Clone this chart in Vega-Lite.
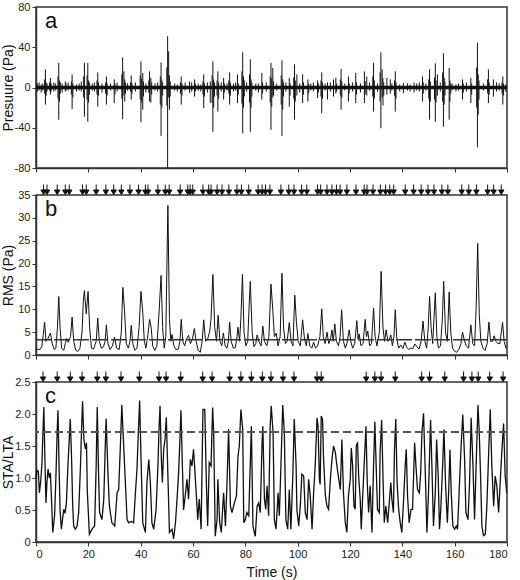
{
  "$schema": "https://vega.github.io/schema/vega-lite/v6.json",
  "padding": {"left": 0, "top": 0, "right": 0, "bottom": 0},
  "bounds": "flush",
  "spacing": 27,
  "config": {
    "font": "Liberation Sans",
    "view": {"stroke": "#333", "strokeWidth": 1.5},
    "axis": {"domainColor": "#333", "domainWidth": 1.5, "tickColor": "#333", "tickSize": 4, "labelColor": "#222", "labelFontSize": 11, "labelOverlap": false, "titleFontSize": 14, "titleFontWeight": "normal", "titleColor": "#111", "grid": false, "labelFont": "Liberation Sans", "titleFont": "Liberation Sans"}
  },
  "datasets": {
    "pres": [
      {"t":3.6,"lo":-17,"hi":18},{"t":3.3,"lo":-6,"hi":8},{"t":3.9,"lo":-8,"hi":5},{"t":4.2,"lo":-4,"hi":4},
      {"t":5.5,"lo":-7,"hi":9.5},{"t":5.2,"lo":-3,"hi":5},{"t":5.8,"lo":-4,"hi":4},
      {"t":8.7,"lo":-32,"hi":24.5},{"t":8.4,"lo":-11,"hi":11},{"t":9.0,"lo":-14,"hi":7},{"t":9.3,"lo":-6,"hi":5},
      {"t":11.2,"lo":-4,"hi":6},{"t":11.5,"lo":-3,"hi":4},
      {"t":13.8,"lo":-21.5,"hi":13},{"t":13.5,"lo":-7,"hi":6},{"t":14.1,"lo":-10,"hi":4},
      {"t":18.5,"lo":-29,"hi":24.5},{"t":18.2,"lo":-10,"hi":11},{"t":19.8,"lo":-34,"hi":24.5},{"t":19.5,"lo":-12,"hi":12},{"t":20.1,"lo":-15,"hi":7},{"t":20.4,"lo":-7,"hi":5},
      {"t":23.6,"lo":-19,"hi":15},{"t":23.3,"lo":-7,"hi":7},{"t":23.9,"lo":-8,"hi":5},
      {"t":26.9,"lo":-17,"hi":11},{"t":26.6,"lo":-6,"hi":5},{"t":27.2,"lo":-8,"hi":4},
      {"t":29.9,"lo":-15.5,"hi":8},{"t":30.2,"lo":-7,"hi":4},
      {"t":33.1,"lo":-31.5,"hi":30},{"t":33.6,"lo":-8,"hi":16},{"t":32.8,"lo":-11,"hi":13},{"t":33.9,"lo":-14,"hi":8},{"t":34.2,"lo":-6,"hi":5},
      {"t":36.4,"lo":-12,"hi":12},{"t":36.1,"lo":-4,"hi":5},{"t":36.7,"lo":-6,"hi":4},
      {"t":40.1,"lo":-34.5,"hi":26},{"t":40.8,"lo":-22,"hi":14.5},{"t":39.8,"lo":-12,"hi":12},{"t":40.4,"lo":-15,"hi":9},{"t":41.1,"lo":-9,"hi":6},
      {"t":43.4,"lo":-14,"hi":16},{"t":43.9,"lo":-15,"hi":9.5},{"t":43.1,"lo":-5,"hi":7},{"t":44.2,"lo":-7,"hi":5},
      {"t":47.8,"lo":-48,"hi":25},{"t":47.5,"lo":-17,"hi":11},{"t":48.1,"lo":-20,"hi":8},{"t":48.4,"lo":-8,"hi":5},
      {"t":50.3,"lo":-80,"hi":51},{"t":50.7,"lo":-10,"hi":36},{"t":50.0,"lo":-18,"hi":20},{"t":51.0,"lo":-22,"hi":12},{"t":51.3,"lo":-9,"hi":6},
      {"t":55.5,"lo":-17,"hi":11},{"t":55.2,"lo":-6,"hi":5},{"t":55.8,"lo":-8,"hi":4},
      {"t":58.7,"lo":-5.5,"hi":6},{"t":60.6,"lo":-9,"hi":8},{"t":60.9,"lo":-4,"hi":4},
      {"t":64.1,"lo":-20.5,"hi":13},{"t":63.8,"lo":-7,"hi":6},{"t":64.4,"lo":-9,"hi":4},
      {"t":66.6,"lo":-15.5,"hi":6},{"t":67.6,"lo":-44,"hi":26},{"t":67.3,"lo":-15,"hi":12},{"t":67.9,"lo":-20,"hi":8},{"t":68.2,"lo":-9,"hi":5},
      {"t":69.5,"lo":-24,"hi":16},{"t":69.2,"lo":-8,"hi":7},{"t":69.8,"lo":-11,"hi":5},
      {"t":71.7,"lo":-12,"hi":9.5},{"t":72.0,"lo":-5,"hi":4},
      {"t":74.0,"lo":-17,"hi":15},{"t":73.7,"lo":-6,"hi":7},{"t":74.3,"lo":-8,"hi":5},
      {"t":77.0,"lo":-15.5,"hi":13},{"t":77.3,"lo":-7,"hi":4},
      {"t":79.0,"lo":-45.5,"hi":35},{"t":78.7,"lo":-16,"hi":16},{"t":79.3,"lo":-20,"hi":11},{"t":79.6,"lo":-9,"hi":7},
      {"t":81.9,"lo":-44,"hi":28},{"t":81.6,"lo":-15,"hi":13},{"t":82.2,"lo":-20,"hi":8},{"t":82.5,"lo":-9,"hi":5},
      {"t":86.3,"lo":-12,"hi":14.5},{"t":86.6,"lo":-6,"hi":5},
      {"t":89.8,"lo":-42,"hi":24.5},{"t":90.5,"lo":-10,"hi":19.5},{"t":89.5,"lo":-15,"hi":11},{"t":90.1,"lo":-19,"hi":9},{"t":90.8,"lo":-8,"hi":6},
      {"t":94.0,"lo":-48,"hi":27},{"t":93.7,"lo":-17,"hi":12},{"t":94.3,"lo":-22,"hi":8},{"t":94.6,"lo":-9,"hi":5},
      {"t":96.8,"lo":-19,"hi":9.5},{"t":97.1,"lo":-8,"hi":4},
      {"t":98.8,"lo":-32,"hi":23},{"t":99.7,"lo":-8,"hi":13},{"t":98.5,"lo":-11,"hi":10},{"t":99.1,"lo":-14,"hi":7},
      {"t":101.9,"lo":-15.5,"hi":13},{"t":102.2,"lo":-7,"hi":5},
      {"t":103.9,"lo":-14,"hi":8},{"t":104.2,"lo":-6,"hi":4},
      {"t":107.6,"lo":-10.5,"hi":7},{"t":107.9,"lo":-5,"hi":4},
      {"t":109.2,"lo":-25.5,"hi":15},{"t":108.9,"lo":-9,"hi":7},{"t":109.5,"lo":-11,"hi":5},
      {"t":111.4,"lo":-12,"hi":5},{"t":113.7,"lo":-9,"hi":8},{"t":114.6,"lo":-6,"hi":9.5},{"t":114.9,"lo":-4,"hi":4},
      {"t":116.6,"lo":-22,"hi":18.5},{"t":116.3,"lo":-8,"hi":8},{"t":116.9,"lo":-10,"hi":6},
      {"t":119.4,"lo":-14,"hi":11},{"t":119.7,"lo":-6,"hi":4},
      {"t":122.2,"lo":-15.5,"hi":14.5},{"t":122.5,"lo":-7,"hi":5},
      {"t":125.5,"lo":-15.5,"hi":16},{"t":126.4,"lo":-8,"hi":11},{"t":125.8,"lo":-7,"hi":6},
      {"t":129.0,"lo":-24,"hi":24.5},{"t":128.7,"lo":-9,"hi":11},{"t":129.3,"lo":-11,"hi":7},
      {"t":131.8,"lo":-40.5,"hi":35},{"t":132.3,"lo":-10,"hi":18},{"t":131.5,"lo":-14,"hi":15},{"t":132.6,"lo":-18,"hi":9},{"t":132.9,"lo":-8,"hi":5},
      {"t":134.1,"lo":-7,"hi":9.5},{"t":135.4,"lo":-6,"hi":8},
      {"t":137.3,"lo":-24,"hi":16},{"t":137.0,"lo":-8,"hi":7},{"t":137.6,"lo":-11,"hi":5},
      {"t":140.4,"lo":-5.5,"hi":4.5},{"t":144.5,"lo":-5,"hi":5},
      {"t":147.7,"lo":-14,"hi":11},{"t":148.0,"lo":-6,"hi":5},
      {"t":150.4,"lo":-32,"hi":18},{"t":150.1,"lo":-11,"hi":8},{"t":150.7,"lo":-14,"hi":6},
      {"t":152.6,"lo":-34,"hi":24},{"t":153.4,"lo":-8,"hi":13},{"t":152.3,"lo":-12,"hi":10},{"t":152.9,"lo":-15,"hi":7},
      {"t":155.7,"lo":-39,"hi":34},{"t":155.4,"lo":-14,"hi":15},{"t":156.0,"lo":-17,"hi":10},{"t":156.3,"lo":-8,"hi":6},
      {"t":157.9,"lo":-32,"hi":19.5},{"t":158.2,"lo":-14,"hi":7},{"t":158.5,"lo":-6,"hi":4},
      {"t":163.0,"lo":-12,"hi":8},{"t":163.3,"lo":-5,"hi":4},
      {"t":166.2,"lo":-15.5,"hi":9.5},{"t":166.5,"lo":-7,"hi":4},
      {"t":168.7,"lo":-59.5,"hi":44.5},{"t":168.4,"lo":-20,"hi":20},{"t":169.0,"lo":-27,"hi":13},{"t":169.3,"lo":-12,"hi":7},
      {"t":172.9,"lo":-15.5,"hi":18},{"t":172.6,"lo":-6,"hi":8},{"t":173.2,"lo":-7,"hi":5},
      {"t":174.8,"lo":-9,"hi":8},
      {"t":178.4,"lo":-17,"hi":11},{"t":178.1,"lo":-6,"hi":5},{"t":178.7,"lo":-8,"hi":4},
      {"t":0.5,"lo":-4,"hi":4},{"t":1.2,"lo":-3,"hi":5},{"t":2.0,"lo":-5,"hi":3},{"t":2.6,"lo":-3,"hi":4},{"t":6.8,"lo":-4,"hi":5},{"t":7.5,"lo":-3,"hi":4},{"t":10.0,"lo":-5,"hi":4},{"t":12.3,"lo":-3,"hi":5},{"t":15.5,"lo":-4,"hi":3},{"t":16.5,"lo":-3,"hi":4},{"t":17.3,"lo":-4,"hi":6},{"t":21.5,"lo":-3,"hi":4},{"t":22.3,"lo":-4,"hi":5},{"t":25.2,"lo":-5,"hi":4},{"t":28.5,"lo":-3,"hi":4},{"t":31.0,"lo":-4,"hi":5},{"t":35.0,"lo":-3,"hi":4},{"t":38.0,"lo":-4,"hi":5},{"t":42.0,"lo":-5,"hi":4},{"t":45.5,"lo":-3,"hi":4},{"t":46.5,"lo":-4,"hi":5},{"t":53.0,"lo":-3,"hi":4},{"t":54.0,"lo":-4,"hi":3},{"t":57.0,"lo":-3,"hi":5},{"t":59.5,"lo":-4,"hi":5},{"t":62.0,"lo":-3,"hi":4},{"t":63.0,"lo":-4,"hi":3},{"t":65.5,"lo":-5,"hi":5},{"t":70.8,"lo":-4,"hi":5},{"t":73.0,"lo":-3,"hi":4},{"t":75.5,"lo":-4,"hi":4},{"t":76.3,"lo":-3,"hi":5},{"t":80.5,"lo":-4,"hi":5},{"t":84.0,"lo":-3,"hi":4},{"t":85.0,"lo":-5,"hi":4},{"t":88.0,"lo":-4,"hi":5},{"t":92.0,"lo":-3,"hi":4},{"t":95.5,"lo":-4,"hi":5},{"t":100.8,"lo":-5,"hi":4},{"t":105.0,"lo":-3,"hi":4},{"t":106.0,"lo":-4,"hi":5},{"t":110.5,"lo":-3,"hi":4},{"t":112.5,"lo":-4,"hi":5},{"t":118.0,"lo":-3,"hi":4},{"t":121.0,"lo":-4,"hi":5},{"t":124.0,"lo":-5,"hi":4},{"t":127.5,"lo":-3,"hi":5},{"t":130.5,"lo":-4,"hi":4},{"t":136.0,"lo":-3,"hi":4},{"t":139.0,"lo":-4,"hi":3},{"t":142.0,"lo":-3,"hi":4},{"t":143.0,"lo":-4,"hi":3},{"t":145.5,"lo":-3,"hi":4},{"t":146.5,"lo":-4,"hi":5},{"t":149.0,"lo":-3,"hi":4},{"t":154.5,"lo":-4,"hi":5},{"t":159.0,"lo":-3,"hi":4},{"t":160.5,"lo":-4,"hi":3},{"t":161.5,"lo":-3,"hi":4},{"t":164.5,"lo":-4,"hi":5},{"t":171.0,"lo":-3,"hi":4},{"t":176.0,"lo":-4,"hi":5},{"t":177.0,"lo":-3,"hi":4},{"t":179.5,"lo":-4,"hi":3}
    ],
    "rms": [
      {"t":0,"v":1.0},{"t":0.8,"v":1.3},{"t":1.5,"v":1.2},{"t":2.2,"v":1.8},{"t":2.8,"v":4.5},{"t":3.3,"v":7.2},{"t":3.8,"v":3.0},{"t":4.5,"v":3.5},{"t":5.5,"v":4.8},{"t":6.2,"v":2.5},{"t":7.0,"v":1.2},{"t":7.6,"v":1.5},{"t":8.2,"v":6},{"t":8.7,"v":12.8},{"t":9.2,"v":6},{"t":9.8,"v":1.5},{"t":10.6,"v":1.0},{"t":11.2,"v":2.5},{"t":11.7,"v":3.6},{"t":12.3,"v":2.8},{"t":13.2,"v":4},{"t":13.8,"v":8.3},{"t":14.4,"v":3},{"t":15.2,"v":1.0},{"t":16.0,"v":0.8},{"t":16.8,"v":1.5},{"t":17.6,"v":5},{"t":18.1,"v":12},{"t":18.5,"v":14.1},{"t":19.2,"v":9},{"t":19.9,"v":13.9},{"t":20.5,"v":6},{"t":21.2,"v":1.5},{"t":22.0,"v":1.3},{"t":23.0,"v":3},{"t":23.6,"v":8.1},{"t":24.2,"v":3.0},{"t":25.0,"v":1.5},{"t":25.8,"v":1.8},{"t":26.4,"v":3},{"t":26.9,"v":6.6},{"t":27.5,"v":2.5},{"t":28.3,"v":1.2},{"t":29.2,"v":2},{"t":30.0,"v":3.9},{"t":30.8,"v":1.5},{"t":31.8,"v":1.2},{"t":32.6,"v":5},{"t":33.2,"v":14.8},{"t":33.8,"v":10},{"t":34.5,"v":2.5},{"t":35.3,"v":1.5},{"t":35.9,"v":3},{"t":36.4,"v":6.5},{"t":37.0,"v":2.5},{"t":37.8,"v":1.0},{"t":38.6,"v":1.5},{"t":39.4,"v":6},{"t":40.1,"v":13.9},{"t":40.8,"v":9.4},{"t":41.4,"v":3},{"t":42.0,"v":1.5},{"t":42.8,"v":4.5},{"t":43.4,"v":7.8},{"t":44.0,"v":6.1},{"t":44.6,"v":2},{"t":45.4,"v":1.0},{"t":46.2,"v":2},{"t":47.0,"v":9},{"t":47.8,"v":17.4},{"t":48.4,"v":6},{"t":49.0,"v":1.5},{"t":49.6,"v":4},{"t":50.4,"v":32.7},{"t":51.0,"v":8},{"t":51.5,"v":3},{"t":52.0,"v":4.5},{"t":52.7,"v":2},{"t":53.5,"v":1.2},{"t":54.4,"v":1.3},{"t":55.0,"v":3},{"t":55.5,"v":7.8},{"t":56.1,"v":3},{"t":56.8,"v":2},{"t":57.5,"v":3.5},{"t":58.3,"v":4.3},{"t":59.0,"v":2.5},{"t":59.8,"v":3.5},{"t":60.5,"v":5.8},{"t":61.2,"v":3},{"t":62.0,"v":1.0},{"t":62.8,"v":0.6},{"t":63.5,"v":3},{"t":64.1,"v":7.7},{"t":64.8,"v":3},{"t":65.6,"v":3.5},{"t":66.4,"v":5.2},{"t":66.9,"v":8},{"t":67.6,"v":17.6},{"t":68.3,"v":6},{"t":69.0,"v":3},{"t":69.6,"v":8.7},{"t":70.3,"v":3},{"t":71.0,"v":2},{"t":71.6,"v":4.8},{"t":72.3,"v":2},{"t":73.0,"v":1.5},{"t":73.5,"v":3},{"t":74.0,"v":7.2},{"t":74.6,"v":3},{"t":75.4,"v":1.5},{"t":76.2,"v":1.6},{"t":76.8,"v":4},{"t":77.2,"v":6.1},{"t":77.8,"v":3},{"t":78.3,"v":8},{"t":78.9,"v":17.6},{"t":79.5,"v":5},{"t":80.2,"v":2},{"t":80.9,"v":3},{"t":81.4,"v":10},{"t":81.9,"v":16.1},{"t":82.6,"v":5},{"t":83.3,"v":1.8},{"t":84.0,"v":2.5},{"t":84.5,"v":4.4},{"t":85.2,"v":3},{"t":86.0,"v":2.0},{"t":86.7,"v":6.3},{"t":87.3,"v":3},{"t":88.2,"v":2},{"t":89.0,"v":4},{"t":89.8,"v":15.5},{"t":90.5,"v":9.8},{"t":91.1,"v":4},{"t":91.8,"v":4.8},{"t":92.5,"v":2},{"t":93.3,"v":4},{"t":94.0,"v":17.9},{"t":94.6,"v":6},{"t":95.3,"v":2.5},{"t":96.0,"v":3},{"t":96.8,"v":7.1},{"t":97.5,"v":3},{"t":98.2,"v":2},{"t":98.9,"v":13.1},{"t":99.5,"v":7.4},{"t":100.2,"v":3},{"t":101.0,"v":2},{"t":101.9,"v":7.7},{"t":102.6,"v":3.5},{"t":103.3,"v":2},{"t":103.9,"v":4.7},{"t":104.6,"v":2},{"t":105.4,"v":1.5},{"t":106.1,"v":2.8},{"t":106.8,"v":1.5},{"t":107.6,"v":2},{"t":108.5,"v":4},{"t":109.2,"v":10.1},{"t":109.8,"v":4},{"t":110.5,"v":2.5},{"t":111.2,"v":5.0},{"t":111.9,"v":2.5},{"t":112.6,"v":3.5},{"t":113.1,"v":5.5},{"t":113.6,"v":3},{"t":114.2,"v":6.8},{"t":114.8,"v":3},{"t":115.6,"v":2},{"t":116.2,"v":4},{"t":116.8,"v":9.9},{"t":117.5,"v":3},{"t":118.2,"v":1.5},{"t":118.8,"v":2.5},{"t":119.7,"v":5.5},{"t":120.3,"v":3},{"t":121.0,"v":1.5},{"t":121.8,"v":2.5},{"t":122.6,"v":7.5},{"t":123.1,"v":3.5},{"t":123.5,"v":4.6},{"t":124.2,"v":2},{"t":125.0,"v":2.5},{"t":125.8,"v":7.8},{"t":126.3,"v":4},{"t":126.8,"v":5.2},{"t":127.5,"v":2},{"t":128.2,"v":2.5},{"t":129.0,"v":10.3},{"t":129.6,"v":4},{"t":130.3,"v":2},{"t":131.2,"v":5},{"t":131.9,"v":18.3},{"t":132.6,"v":6},{"t":133.2,"v":3},{"t":133.8,"v":5.5},{"t":134.5,"v":3},{"t":135.0,"v":3.5},{"t":135.6,"v":4.4},{"t":136.2,"v":2},{"t":136.8,"v":4},{"t":137.3,"v":9.9},{"t":137.9,"v":3.5},{"t":138.6,"v":1.5},{"t":139.4,"v":2.2},{"t":140.2,"v":1.4},{"t":141.0,"v":2.8},{"t":141.6,"v":1.8},{"t":142.4,"v":1.2},{"t":143.2,"v":1.5},{"t":144.0,"v":1.4},{"t":144.8,"v":2.4},{"t":145.6,"v":1.8},{"t":146.4,"v":1.3},{"t":147.2,"v":3},{"t":147.9,"v":7.4},{"t":148.6,"v":3},{"t":149.3,"v":1.5},{"t":149.9,"v":6},{"t":150.4,"v":12.8},{"t":151.0,"v":6},{"t":151.6,"v":2.5},{"t":152.1,"v":8},{"t":152.6,"v":13.6},{"t":153.2,"v":4},{"t":153.8,"v":1.5},{"t":154.6,"v":2},{"t":155.3,"v":8},{"t":155.8,"v":16.1},{"t":156.5,"v":5},{"t":157.2,"v":3},{"t":157.9,"v":13.8},{"t":158.5,"v":5},{"t":159.2,"v":1.5},{"t":160.0,"v":0.8},{"t":160.8,"v":0.6},{"t":161.6,"v":1.2},{"t":162.4,"v":2.5},{"t":163.0,"v":5.0},{"t":163.6,"v":3.5},{"t":164.4,"v":2},{"t":165.3,"v":1.5},{"t":166.2,"v":6.6},{"t":166.9,"v":2.5},{"t":167.6,"v":2},{"t":168.2,"v":10},{"t":168.8,"v":24.4},{"t":169.4,"v":9},{"t":170.0,"v":3},{"t":170.8,"v":1.5},{"t":171.6,"v":1.0},{"t":172.4,"v":2.5},{"t":173.1,"v":7.2},{"t":173.7,"v":3},{"t":174.4,"v":3.0},{"t":175.1,"v":4.2},{"t":175.8,"v":3},{"t":176.5,"v":2.5},{"t":177.3,"v":2.5},{"t":178.3,"v":7.2},{"t":178.9,"v":3},{"t":179.6,"v":1.5},{"t":180,"v":1.5}
    ],
    "sta": [
      {"t":0,"v":1.0},{"t":0.4,"v":1.12},{"t":0.9,"v":1.1},{"t":1.3,"v":0.77},{"t":1.8,"v":0.95},{"t":2.3,"v":1.24},{"t":2.6,"v":1.65},{"t":3.0,"v":2.11},{"t":3.4,"v":1.3},{"t":3.8,"v":0.61},{"t":4.2,"v":0.95},{"t":4.6,"v":1.14},{"t":5.1,"v":1.0},{"t":5.5,"v":1.08},{"t":6.0,"v":0.6},{"t":6.4,"v":0.15},{"t":7.1,"v":0.41},{"t":7.6,"v":1.0},{"t":8.1,"v":1.75},{"t":8.4,"v":2.06},{"t":8.8,"v":1.2},{"t":9.2,"v":0.5},{"t":9.7,"v":0.2},{"t":10.6,"v":0.51},{"t":11.1,"v":0.45},{"t":11.6,"v":0.6},{"t":12.2,"v":1.19},{"t":12.7,"v":1.6},{"t":13.1,"v":1.92},{"t":13.6,"v":1.3},{"t":14.0,"v":0.6},{"t":14.4,"v":0.25},{"t":15.0,"v":0.2},{"t":15.7,"v":0.25},{"t":16.3,"v":0.46},{"t":17.0,"v":1.19},{"t":17.4,"v":1.75},{"t":17.8,"v":2.2},{"t":18.3,"v":1.6},{"t":18.9,"v":1.45},{"t":19.3,"v":1.55},{"t":19.6,"v":0.8},{"t":20.4,"v":0.12},{"t":21.4,"v":0.2},{"t":22.4,"v":0.25},{"t":23.0,"v":1.2},{"t":23.4,"v":2.11},{"t":23.9,"v":1.1},{"t":24.3,"v":0.46},{"t":25.2,"v":0.35},{"t":25.9,"v":0.67},{"t":26.4,"v":1.4},{"t":26.8,"v":1.93},{"t":27.5,"v":1.08},{"t":28.0,"v":0.6},{"t":28.4,"v":0.46},{"t":29.0,"v":0.3},{"t":30.1,"v":0.25},{"t":31.0,"v":0.77},{"t":31.6,"v":0.82},{"t":32.2,"v":1.45},{"t":32.8,"v":2.14},{"t":33.4,"v":1.6},{"t":34.1,"v":0.98},{"t":34.8,"v":0.35},{"t":35.4,"v":0.3},{"t":36.4,"v":0.32},{"t":37.3,"v":0.3},{"t":38.0,"v":0.77},{"t":38.6,"v":1.14},{"t":39.1,"v":1.7},{"t":39.6,"v":2.21},{"t":40.2,"v":1.2},{"t":40.8,"v":0.3},{"t":41.8,"v":0.15},{"t":42.4,"v":0.93},{"t":43.1,"v":1.29},{"t":43.7,"v":0.93},{"t":44.3,"v":0.3},{"t":45.0,"v":0.2},{"t":45.9,"v":0.51},{"t":46.6,"v":1.19},{"t":47.0,"v":1.75},{"t":47.4,"v":2.13},{"t":47.9,"v":1.3},{"t":48.3,"v":0.93},{"t":48.8,"v":1.45},{"t":49.3,"v":1.6},{"t":49.8,"v":1.95},{"t":50.3,"v":1.2},{"t":51.0,"v":0.15},{"t":52.0,"v":0.2},{"t":52.6,"v":0.05},{"t":53.3,"v":0.3},{"t":53.9,"v":0.67},{"t":54.5,"v":1.08},{"t":55.0,"v":1.6},{"t":55.4,"v":2.06},{"t":56.0,"v":1.1},{"t":56.4,"v":0.5},{"t":57.1,"v":0.75},
      {"t":57.7,"v":0.98},{"t":58.3,"v":0.67},{"t":59.0,"v":1.29},{"t":59.6,"v":1.19},{"t":60.2,"v":1.45},{"t":60.6,"v":1.19},{"t":61.3,"v":0.72},{"t":61.8,"v":0.35},{"t":62.4,"v":0.67},{"t":63.1,"v":0.2},{"t":63.8,"v":2.07},{"t":64.5,"v":2.07},{"t":65.1,"v":0.93},{"t":65.6,"v":0.25},{"t":66.2,"v":1.24},{"t":66.9,"v":1.19},{"t":67.5,"v":2.1},{"t":67.9,"v":1.71},{"t":68.5,"v":0.09},{"t":69.2,"v":0.35},{"t":69.5,"v":0.98},{"t":70.2,"v":0.3},{"t":70.8,"v":0.15},{"t":71.7,"v":0.77},{"t":72.4,"v":0.25},{"t":73.0,"v":0.93},{"t":73.6,"v":1.76},{"t":74.3,"v":0.56},{"t":74.9,"v":0.46},{"t":75.5,"v":0.56},{"t":76.6,"v":0.72},{"t":77.2,"v":1.34},{"t":77.7,"v":1.5},{"t":78.3,"v":2.07},{"t":79.0,"v":1.76},{"t":79.4,"v":0.3},{"t":80.0,"v":0.35},{"t":80.6,"v":0.46},{"t":81.3,"v":0.41},{"t":81.9,"v":1.24},{"t":82.3,"v":1.81},{"t":82.9,"v":0.25},{"t":83.8,"v":0.09},{"t":84.5,"v":0.56},{"t":85.1,"v":0.61},{"t":85.7,"v":0.46},{"t":86.4,"v":1.55},{"t":86.7,"v":1.81},{"t":87.3,"v":0.67},{"t":87.8,"v":0.51},{"t":88.3,"v":0.88},{"t":88.9,"v":0.41},{"t":89.5,"v":1.81},{"t":89.9,"v":2.13},{"t":90.6,"v":1.71},{"t":91.1,"v":0.35},{"t":91.7,"v":0.2},{"t":92.1,"v":0.46},{"t":92.5,"v":0.77},{"t":93.0,"v":0.41},{"t":93.6,"v":1.19},{"t":94.3,"v":2.14},{"t":94.9,"v":1.71},{"t":95.5,"v":0.35},{"t":96.2,"v":0.2},{"t":96.8,"v":0.82},{"t":97.4,"v":0.2},{"t":98.1,"v":0.98},{"t":98.7,"v":1.92},{"t":99.4,"v":1.19},{"t":99.7,"v":0.51},{"t":100.4,"v":0.25},{"t":101.0,"v":0.56},{"t":101.6,"v":1.06},{"t":102.3,"v":1.03},{"t":102.9,"v":0.46},{"t":103.6,"v":0.35},{"t":104.2,"v":0.98},{"t":104.8,"v":0.72},{"t":105.5,"v":0.2},{"t":106.1,"v":0.77},{"t":106.7,"v":1.19},{"t":107.4,"v":1.94},{"t":107.8,"v":1.81},{"t":108.3,"v":0.98},{"t":108.6,"v":0.9},{"t":109.0,"v":1.97},{"t":109.5,"v":1.92},{"t":109.9,"v":1.29},{"t":110.6,"v":0.72},{"t":111.2,"v":0.56},{"t":111.8,"v":0.51},{"t":112.5,"v":0.98},{"t":113.1,"v":1.29},{"t":113.7,"v":1.5},{"t":114.4,"v":1.4},{"t":115.0,"v":1.19},{"t":115.7,"v":0.98},{"t":116.3,"v":0.82},
      {"t":116.9,"v":1.6},{"t":117.5,"v":0.77},{"t":118.2,"v":0.3},{"t":118.8,"v":0.15},{"t":119.4,"v":0.72},{"t":120.1,"v":0.98},{"t":120.5,"v":1.47},{"t":121.0,"v":1.19},{"t":121.5,"v":0.56},{"t":122.0,"v":0.51},{"t":122.4,"v":1.5},{"t":122.9,"v":1.56},{"t":123.3,"v":1.03},{"t":123.9,"v":0.67},{"t":124.3,"v":0.2},{"t":124.8,"v":0.67},{"t":125.4,"v":1.19},{"t":126.1,"v":1.81},{"t":126.6,"v":0.93},{"t":127.1,"v":0.46},{"t":127.7,"v":0.88},{"t":128.4,"v":0.15},{"t":129.0,"v":1.19},{"t":129.5,"v":1.88},{"t":130.0,"v":1.19},{"t":130.5,"v":0.51},{"t":131.2,"v":0.46},{"t":131.5,"v":1.4},{"t":132.1,"v":1.91},{"t":132.6,"v":1.03},{"t":133.1,"v":0.3},{"t":133.7,"v":0.56},{"t":134.4,"v":0.3},{"t":135.0,"v":0.61},{"t":135.6,"v":0.93},{"t":136.0,"v":0.67},{"t":136.6,"v":0.46},{"t":137.0,"v":1.45},{"t":137.5,"v":1.92},{"t":138.0,"v":0.93},{"t":138.6,"v":0.51},{"t":139.2,"v":0.3},{"t":139.8,"v":0.15},{"t":140.5,"v":0.67},{"t":141.1,"v":1.19},{"t":141.5,"v":1.45},{"t":142.0,"v":0.72},{"t":142.6,"v":0.3},{"t":143.3,"v":0.51},{"t":143.9,"v":0.51},{"t":144.7,"v":1.55},{"t":145.2,"v":1.19},{"t":145.8,"v":0.82},{"t":146.5,"v":0.77},{"t":147.0,"v":1.08},{"t":147.5,"v":1.71},{"t":148.1,"v":2.01},{"t":148.7,"v":1.19},{"t":149.4,"v":0.15},{"t":150.0,"v":0.77},{"t":150.8,"v":1.91},{"t":151.3,"v":1.19},{"t":151.9,"v":0.25},{"t":152.6,"v":0.77},{"t":153.1,"v":1.6},{"t":153.7,"v":1.03},{"t":154.2,"v":0.2},{"t":154.7,"v":0.51},{"t":155.4,"v":1.19},{"t":155.9,"v":1.76},{"t":156.5,"v":0.93},{"t":157.2,"v":0.3},{"t":157.7,"v":0.77},{"t":158.2,"v":1.44},{"t":158.7,"v":0.77},{"t":159.3,"v":0.25},{"t":160.0,"v":0.2},{"t":160.6,"v":0.25},{"t":161.1,"v":0.2},{"t":161.7,"v":0.77},{"t":162.4,"v":1.45},{"t":163.1,"v":1.99},{"t":163.8,"v":1.29},{"t":164.3,"v":0.46},{"t":165.1,"v":0.35},{"t":165.7,"v":0.93},{"t":166.3,"v":1.94},{"t":167.0,"v":1.19},{"t":167.6,"v":0.35},{"t":168.2,"v":1.19},{"t":168.9,"v":2.14},{"t":169.4,"v":1.71},{"t":169.9,"v":1.03},{"t":170.4,"v":0.25},{"t":171.0,"v":0.1},{"t":171.7,"v":0.12},{"t":172.3,"v":0.56},{"t":173.0,"v":1.4},{"t":173.6,"v":2.07},{"t":174.2,"v":1.19},{"t":174.9,"v":0.56},{"t":175.5,"v":1.03},{"t":176.1,"v":0.88},{"t":176.8,"v":0.46},{"t":177.4,"v":0.93},{"t":178.0,"v":1.4},{"t":178.7,"v":1.85},{"t":179.3,"v":1.03},{"t":179.9,"v":0.77}
    ],
    "arrB": [
      {"t":2.9},{"t":4.2},{"t":8.1},{"t":11.2},{"t":12.7},{"t":17.8},{"t":19.2},{"t":23.0},{"t":26.7},{"t":29.7},{"t":32.6},{"t":35.9},{"t":39.2},{"t":41.8},{"t":42.8},{"t":46.6},{"t":49.4},{"t":50.9},{"t":55.1},{"t":58.0},{"t":58.9},{"t":59.9},{"t":63.8},{"t":66.0},{"t":66.9},{"t":69.2},{"t":71.1},{"t":73.7},{"t":76.8},{"t":78.5},{"t":81.3},{"t":84.9},{"t":86.4},{"t":87.7},{"t":89.4},{"t":93.6},{"t":96.6},{"t":98.6},{"t":101.5},{"t":103.5},{"t":107.6},{"t":108.8},{"t":111.2},{"t":113.1},{"t":114.8},{"t":116.2},{"t":118.8},{"t":122.3},{"t":125.4},{"t":126.5},{"t":128.8},{"t":131.6},{"t":133.6},{"t":135.2},{"t":136.7},{"t":141.1},{"t":144.3},{"t":147.2},{"t":149.8},{"t":152.1},{"t":155.1},{"t":157.4},{"t":162.7},{"t":165.4},{"t":168.3},{"t":172.6},{"t":174.9},{"t":177.8}
    ],
    "arrC": [
      {"t":2.7},{"t":8.1},{"t":13.1},{"t":17.6},{"t":23.4},{"t":26.7},{"t":32.5},{"t":39.5},{"t":47.0},{"t":49.7},{"t":55.3},{"t":63.7},{"t":67.3},{"t":74.0},{"t":78.3},{"t":82.3},{"t":86.5},{"t":89.8},{"t":94.4},{"t":98.6},{"t":107.4},{"t":109.0},{"t":126.2},{"t":129.5},{"t":131.9},{"t":137.3},{"t":147.4},{"t":150.4},{"t":156.2},{"t":163.4},{"t":166.6},{"t":169.0},{"t":173.4},{"t":178.5}
    ]
  },
  "vconcat": [
    {
      "width": 471,
      "height": 161,
      "layer": [
        {
          "data": {"name": "pres"},
          "mark": {"type": "rule", "color": "#111", "strokeWidth": 1},
          "encoding": {
            "x": {"field": "t", "type": "quantitative", "scale": {"domain": [0, 180], "nice": false}, "axis": {"labels": false, "title": null, "values": [0, 20, 40, 60, 80, 100, 120, 140, 160, 180]}},
            "y": {"field": "lo", "type": "quantitative", "scale": {"domain": [-80, 80], "nice": false}, "axis": {"values": [-80, -40, 0, 40, 80], "title": "Presuure (Pa)", "titleX": -21, "labelExpr": "replace(datum.label, '−', '-')"}},
            "y2": {"field": "hi"}
          }
        },
        {
          "data": {"values": [{}]},
          "mark": {"type": "rule", "color": "#111", "strokeWidth": 3.5},
          "encoding": {"y": {"datum": 0}}
        },
        {
          "data": {"values": [{}]},
          "mark": {"type": "text", "fontSize": 22, "align": "left", "baseline": "alphabetic", "color": "#111"},
          "encoding": {"x": {"datum": 3.4}, "y": {"datum": 59.5}, "text": {"value": "a"}}
        }
      ]
    },
    {
      "width": 471,
      "height": 160,
      "layer": [
        {
          "data": {"name": "rms"},
          "mark": {"type": "line", "color": "#111", "strokeWidth": 1},
          "encoding": {
            "x": {"field": "t", "type": "quantitative", "scale": {"domain": [0, 180], "nice": false}, "axis": {"labels": false, "title": null, "values": [0, 20, 40, 60, 80, 100, 120, 140, 160, 180]}},
            "y": {"field": "v", "type": "quantitative", "scale": {"domain": [0, 35], "nice": false}, "axis": {"values": [0, 5, 10, 15, 20, 25, 30, 35], "tickCount": 8, "labelOverlap": false, "title": "RMS (Pa)", "titleX": -21}}
          }
        },
        {
          "data": {"values": [{}]},
          "mark": {"type": "rule", "color": "#333", "strokeWidth": 1.5, "strokeDash": [16, 3]},
          "encoding": {"y": {"datum": 3.35, "type": "quantitative", "axis": {"values": [0, 5, 10, 15, 20, 25, 30, 35], "tickCount": 8, "labelOverlap": false, "title": "RMS (Pa)", "titleX": -21}}}
        },
        {
          "data": {"name": "arrB"},
          "mark": {"type": "point", "shape": "M0,-1L0,0.2M-0.55,0.1L0.55,0.1L0,1Z", "size": 100, "filled": true, "fill": "#111", "stroke": "#111", "strokeWidth": 1, "opacity": 1},
          "encoding": {"x": {"field": "t", "type": "quantitative"}, "y": {"datum": 36.2, "type": "quantitative", "axis": {"values": [0, 5, 10, 15, 20, 25, 30, 35], "tickCount": 8, "labelOverlap": false, "title": "RMS (Pa)", "titleX": -21}}}
        },
        {
          "data": {"values": [{}]},
          "mark": {"type": "text", "fontSize": 22, "align": "left", "baseline": "alphabetic", "color": "#111"},
          "encoding": {"x": {"datum": 3.4}, "y": {"datum": 30.4, "type": "quantitative", "axis": {"values": [0, 5, 10, 15, 20, 25, 30, 35], "tickCount": 8, "labelOverlap": false, "title": "RMS (Pa)", "titleX": -21}}, "text": {"value": "b"}}
        }
      ]
    },
    {
      "width": 471,
      "height": 160,
      "layer": [
        {
          "data": {"name": "sta"},
          "mark": {"type": "line", "color": "#111", "strokeWidth": 1.3},
          "encoding": {
            "x": {"field": "t", "type": "quantitative", "scale": {"domain": [0, 180], "nice": false}, "axis": {"values": [0, 20, 40, 60, 80, 100, 120, 140, 160, 180], "title": "Time (s)", "titlePadding": 6}},
            "y": {"field": "v", "type": "quantitative", "scale": {"domain": [0, 2.5], "nice": false}, "axis": {"values": [0, 0.5, 1, 1.5, 2, 2.5], "tickCount": 6, "labelOverlap": false, "title": "STA/LTA", "titleX": -21, "labelExpr": "datum.value == 0 ? '0' : format(datum.value, '.1f')"}}
          }
        },
        {
          "data": {"values": [{}]},
          "mark": {"type": "rule", "color": "#555", "strokeWidth": 2, "strokeDash": [8, 4]},
          "encoding": {"y": {"datum": 1.72, "type": "quantitative", "axis": {"values": [0, 0.5, 1, 1.5, 2, 2.5], "tickCount": 6, "labelOverlap": false, "title": "STA/LTA", "titleX": -21, "labelExpr": "datum.value == 0 ? '0' : format(datum.value, '.1f')"}}}
        },
        {
          "data": {"name": "arrC"},
          "mark": {"type": "point", "shape": "M0,-1L0,0.2M-0.55,0.1L0.55,0.1L0,1Z", "size": 100, "filled": true, "fill": "#111", "stroke": "#111", "strokeWidth": 1, "opacity": 1},
          "encoding": {"x": {"field": "t", "type": "quantitative"}, "y": {"datum": 2.586, "type": "quantitative", "axis": {"values": [0, 0.5, 1, 1.5, 2, 2.5], "tickCount": 6, "labelOverlap": false, "title": "STA/LTA", "titleX": -21, "labelExpr": "datum.value == 0 ? '0' : format(datum.value, '.1f')"}}}
        },
        {
          "data": {"values": [{}]},
          "mark": {"type": "text", "fontSize": 22, "align": "left", "baseline": "alphabetic", "color": "#111"},
          "encoding": {"x": {"datum": 3.4}, "y": {"datum": 2.17, "type": "quantitative", "axis": {"values": [0, 0.5, 1, 1.5, 2, 2.5], "tickCount": 6, "labelOverlap": false, "title": "STA/LTA", "titleX": -21, "labelExpr": "datum.value == 0 ? '0' : format(datum.value, '.1f')"}}, "text": {"value": "c"}}
        }
      ]
    }
  ]
}
